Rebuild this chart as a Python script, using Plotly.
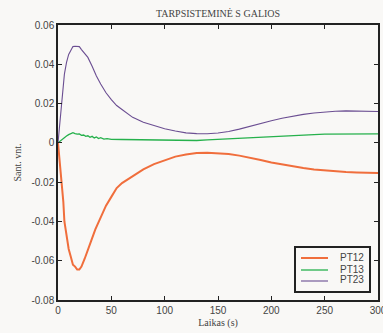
import plotly.graph_objects as go

# ---- data ----
x12 = [0, 1, 2, 3, 4, 5, 6, 8, 10, 12, 14, 16, 18, 20, 22, 25, 28, 31, 35, 40, 45, 50,
       55, 60, 70, 80, 90, 100, 110, 120, 130, 140, 150, 160, 170, 180, 190, 200, 210,
       220, 230, 240, 250, 260, 270, 280, 290, 300]
pt12 = [0, -0.006, -0.012, -0.018, -0.022, -0.030, -0.040, -0.048, -0.054, -0.058, -0.062,
        -0.063, -0.0645, -0.0645, -0.063, -0.059, -0.055, -0.050, -0.044, -0.038, -0.032,
        -0.0275, -0.023, -0.0205, -0.017, -0.0135, -0.0108, -0.0087, -0.0070, -0.0059,
        -0.0052, -0.0050, -0.0052, -0.0057, -0.0065, -0.0075, -0.0087, -0.0100, -0.0110,
        -0.0120, -0.0128, -0.0136, -0.0141, -0.0146, -0.0149, -0.0151, -0.0152, -0.0153]

x23 = [0, 1, 2, 4, 6, 8, 10, 12, 14, 16, 18, 20, 22, 25, 28, 32, 36, 40, 45, 50, 55, 60,
       70, 80, 90, 100, 110, 120, 130, 140, 150, 160, 170, 180, 190, 200, 210, 220, 230,
       240, 250, 260, 270, 280, 290, 300]
pt23 = [0, 0.006, 0.013, 0.025, 0.035, 0.041, 0.045, 0.047, 0.049, 0.0492, 0.0492, 0.049,
        0.0475, 0.0455, 0.0435, 0.039, 0.034, 0.030, 0.0255, 0.022, 0.019, 0.017, 0.013,
        0.0105, 0.0088, 0.0072, 0.0060, 0.0051, 0.0047, 0.0046, 0.0050, 0.0058, 0.0070,
        0.0085, 0.0100, 0.0113, 0.0125, 0.0136, 0.0145, 0.0152, 0.0157, 0.0161, 0.0163,
        0.0163, 0.0162, 0.0160]

x13 = [0, 1, 2, 4, 6, 8, 10, 12, 14, 16, 18, 20, 22, 24, 26, 28, 30, 32, 34, 36, 38, 40,
       43, 46, 50, 60, 70, 80, 90, 100, 110, 120, 130, 140, 150, 160, 170, 180, 190, 200,
       210, 220, 230, 240, 250, 260, 270, 280, 290, 300]
pt13 = [0, 0.0005, 0.001, 0.002, 0.0025, 0.0035, 0.0042, 0.0048, 0.0052, 0.0047, 0.0044,
        0.0045, 0.0038, 0.0040, 0.0033, 0.0036, 0.0028, 0.0033, 0.0025, 0.0030, 0.0022,
        0.0026, 0.0019, 0.0022, 0.0018, 0.0017, 0.0016, 0.0015, 0.0013, 0.0012, 0.0011,
        0.0011, 0.0012, 0.0015, 0.0018, 0.0021, 0.0024, 0.0027, 0.0030, 0.0033, 0.0036,
        0.0038, 0.0040, 0.0042, 0.0044, 0.0045, 0.0046, 0.0046, 0.0046, 0.0046]

series_names = ["PT12", "PT13", "PT23"]
x_ticks = [0, 50, 100, 150, 200, 250, 300]
x_tick_labels = ["0", "50", "100", "150", "200", "250", "300"]
y_ticks = [0.06, 0.04, 0.02, 0, -0.02, -0.04, -0.06, -0.08]
y_tick_labels = ["0.06", "0.04", "0.02", "0", "-0.02", "-0.04", "-0.06", "-0.08"]

title_text = "TARPSISTEMINĖ S GALIOS"
x_title = "Laikas (s)"
y_title = "Sant. vnt."

BG = "#f9f8f6"
colors = ["#f06e3c", "#26b14c", "#6b4e92"]
widths = [2, 1.3, 1.1]

fig = go.Figure()
for xs, ys, name, c, w in zip([x12, x13, x23], [pt12, pt13, pt23], series_names, colors, widths):
    fig.add_trace(go.Scatter(x=xs, y=ys, mode="lines", name=name,
                             line=dict(color=c, width=w)))

axis_common = dict(showgrid=False, zeroline=False, showline=True, linecolor="#222",
                   linewidth=1.5, mirror="allticks", ticks="inside", ticklen=4,
                   tickcolor="#222", ticklabeloverflow="allow", automargin=False,
                   tickfont=dict(family="Liberation Sans, Arial", size=10, color="#444"))
fig.update_xaxes(range=[0, 300], tickvals=x_ticks, ticktext=x_tick_labels,
                 title=dict(text=x_title, font=dict(family="Liberation Serif", size=10,
                                                   color="#444"), standoff=4),
                 **axis_common)
fig.update_yaxes(range=[-0.08, 0.06], tickvals=y_ticks, ticktext=y_tick_labels,
                 title=dict(text=y_title, font=dict(family="Liberation Serif", size=10,
                                                   color="#444"), standoff=8),
                 **axis_common)

# manual compact legend (paper coordinates of the plot area)
L, R, T, B = 58, 378, 25, 300
px = lambda v: (v - L) / (R - L)
py = lambda v: (B - v) / (B - T)
fig.add_shape(type="rect", xref="paper", yref="paper",
              x0=px(295), x1=px(370), y0=py(292), y1=py(247),
              line=dict(color="#222", width=2), fillcolor=BG, layer="above")
for i, (name, c, w) in enumerate(zip(series_names, colors, widths)):
    ly = [258, 270, 281][i]
    ty = [257.5, 269.5, 279.5][i]
    fig.add_shape(type="line", xref="paper", yref="paper",
                  x0=px(301), x1=px(328), y0=py(ly), y1=py(ly),
                  line=dict(color=c, width=w), layer="above")
    fig.add_annotation(xref="paper", yref="paper", x=px(366), y=py(ty),
                       xanchor="right", yanchor="middle", text=name, showarrow=False,
                       font=dict(family="Liberation Sans, Arial", size=10, color="#444"))

fig.update_layout(
    width=383, height=333,
    margin=dict(l=58, r=5, t=25, b=33),
    paper_bgcolor=BG, plot_bgcolor=BG,
    showlegend=False,
    title=dict(text=title_text, x=(58 + 378) / 2 / 383, xanchor="center",
               y=1 - 13 / 333, yanchor="middle",
               font=dict(family="Liberation Serif", size=10, color="#444")),
)

fig.write_html("out.html", config={"displayModeBar": False},
               post_script="document.body.style.margin='0';"
                           "document.body.style.background='" + BG + "';")
